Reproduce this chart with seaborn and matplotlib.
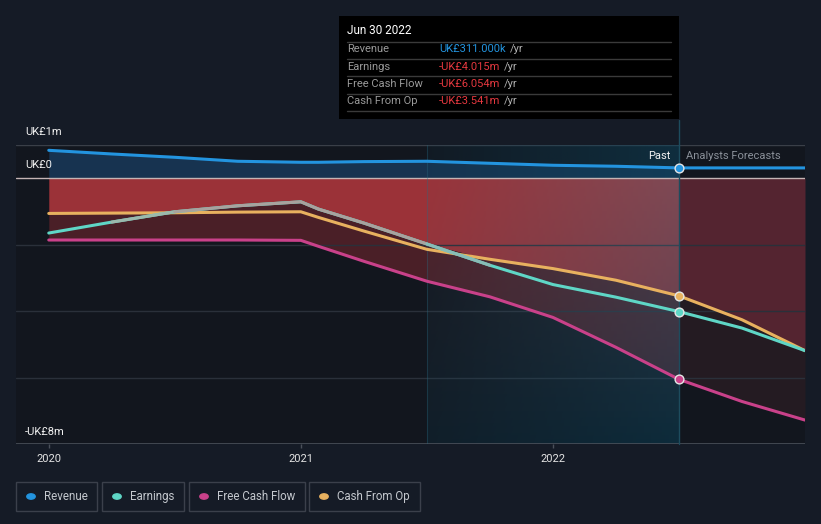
import numpy as np
import pandas as pd
import matplotlib
matplotlib.use('Agg')
from matplotlib import pyplot as plt
from matplotlib.patches import Rectangle
import seaborn as sns

# values in UK£ millions
years = [2020.0, 2020.25, 2020.5, 2020.75, 2021.0, 2021.07, 2021.25, 2021.5, 2021.75, 2022.0, 2022.25, 2022.5, 2022.75, 2023.0]
revenue = [0.84, 0.73, 0.63, 0.51, 0.48, 0.48, 0.50, 0.51, 0.45, 0.39, 0.36, 0.311, 0.31, 0.31]
earnings = [-1.65, -1.32, -1.01, -0.83, -0.71, -0.93, -1.35, -1.98, -2.62, -3.20, -3.58, -4.015, -4.51, -5.19]
free_cash_flow = [-1.86, -1.86, -1.86, -1.86, -1.87, -2.05, -2.50, -3.10, -3.57, -4.19, -5.09, -6.054, -6.72, -7.28]
cash_from_op = [-1.06, -1.05, -1.04, -1.02, -1.01, -1.18, -1.59, -2.14, -2.44, -2.72, -3.07, -3.541, -4.26, -5.19]
past_end = 2022.5
highlight_start = 2021.5

tooltip_date = 'Jun 30 2022'
tooltip_rows = [('Revenue', 'UK£311.000k', '#2394df'),
                ('Earnings', '-UK£4.015m', '#e5383f'),
                ('Free Cash Flow', '-UK£6.054m', '#e5383f'),
                ('Cash From Op', '-UK£3.541m', '#e5383f')]

colors = {'Revenue': '#2394df', 'Earnings': '#5fd6c6',
          'Free Cash Flow': '#c9418a', 'Cash From Op': '#e8b15f'}

df = pd.DataFrame({'year': years, 'Revenue': revenue, 'Earnings': earnings,
                   'Free Cash Flow': free_cash_flow, 'Cash From Op': cash_from_op})

sns.set_theme(style='dark')
plt.rcParams['font.family'] = ['Roboto', 'DejaVu Sans']

W, H = 821, 524
fig = plt.figure(figsize=(W / 100, H / 100), dpi=100, facecolor='#151b26')
ax = fig.add_axes([16 / W, 1 - 444 / H, (805 - 16) / W, (444 - 145) / H])
ax.set_facecolor('#12161e')

def fx(px):
    return px / W

def fy(py):
    return 1 - py / H

neg = df[['Earnings', 'Free Cash Flow', 'Cash From Op']]
df['top'] = neg.max(axis=1)
df['bottom'] = neg.min(axis=1)
past = df[df['year'] <= past_end]
fut = df[df['year'] >= past_end]

# filled areas
ax.fill_between(past['year'], 0, past['Revenue'], color='#173350', lw=0, zorder=1)
ax.fill_between(past['year'], 0, past['top'], color='#9b3238', lw=0, zorder=1)
ax.fill_between(past['year'], past['top'], past['bottom'], color='#4a1f27', lw=0, zorder=1)
ax.fill_between(fut['year'], 0, fut['top'], color='#542430', lw=0, zorder=1)
ax.fill_between(fut['year'], fut['top'], fut['bottom'], color='#241b22', lw=0, zorder=1)

# grid lines
for v in [-2, -4, -6]:
    ax.axhline(v, color='#2a303a', lw=1, zorder=1.5)
ax.axhline(1, color='#3a3f48', lw=1, zorder=1.5)

# past highlight gradient
nx, ny = 120, 90
vert = np.linspace(0, 1, ny)[:, None]
top_c = np.array([90, 103, 121]) / 255
bot_c = np.array([8, 70, 95]) / 255
img = np.zeros((ny, nx, 4))
img[..., :3] = (top_c * (1 - vert[..., None]) + bot_c * vert[..., None])
start_alpha = 0.04 + 0.14 * vert
img[..., 3] = start_alpha + (0.45 - start_alpha) * np.linspace(0, 1, nx)[None, :]
ax.imshow(img, extent=[highlight_start, past_end, -8, 0], aspect='auto', origin='upper', zorder=2)
img2 = np.zeros((2, nx, 4))
img2[..., :3] = np.array([12, 70, 95]) / 255
img2[..., 3] = np.linspace(0.1, 0.5, nx)[None, :]
ax.imshow(img2, extent=[highlight_start, past_end, 0, 1], aspect='auto', origin='upper', zorder=2)
ax.set_xlim(2019.87, 2023.0)
ax.set_ylim(-8, 1)

ax.axhline(0, color='#c4b4b4', lw=1, zorder=2.5)
ax.axhline(-8, color='#4a505a', lw=1.2, zorder=2.5)
ax.axvline(highlight_start, ymin=0, ymax=1, color='#2a6a80', alpha=0.35, lw=0.8, zorder=2.5)
ax.axvline(past_end, ymin=0, ymax=1.085, color='#1d4c5e', lw=1, zorder=2.5, clip_on=False)

# lines
for name in ['Revenue', 'Free Cash Flow', 'Cash From Op', 'Earnings']:
    sns.lineplot(data=df, x='year', y=name, color=colors[name], lw=2.2, ax=ax, zorder=3)
# grey middle part of the earnings stroke
sns.lineplot(data=df.iloc[1:3], x='year', y='Earnings', color='#9cb8ac', lw=2.2, ax=ax, zorder=3.1)
sns.lineplot(data=df.iloc[2:8], x='year', y='Earnings', color='#a8a29e', lw=2.2, ax=ax, zorder=3.1)
sns.lineplot(data=df.iloc[7:9], x='year', y='Earnings', color='#88bcb6', lw=2.2, ax=ax, zorder=3.1)

end = df[df['year'] == past_end]
for name in ['Revenue', 'Earnings', 'Free Cash Flow', 'Cash From Op']:
    sns.scatterplot(data=end, x='year', y=name, color=colors[name], s=40,
                    edgecolor='#e6e6e6', linewidth=1, ax=ax, zorder=4, clip_on=False)

ax.set_xlabel('')
ax.set_ylabel('')
ax.set_yticks([])
ax.set_xticks([2020, 2021, 2022])
ax.set_xticklabels(['2020', '2021', '2022'], color='#e4e4e4', fontsize=8)
ax.tick_params(axis='x', length=3, width=1, color='#4a505a', pad=4, bottom=True)
for s in ax.spines.values():
    s.set_visible(False)
ax.grid(False)

# y labels
fig.text(fx(25), fy(132), 'UK£1m', color='#f0f0f0', fontsize=8, va='center', ha='left')
fig.text(fx(25), fy(165), 'UK£0', color='#f0f0f0', fontsize=8, va='center', ha='left')
fig.text(fx(25), fy(432), '-UK£8m', color='#f0f0f0', fontsize=8, va='center', ha='left')

fig.text(fx(670), fy(156), 'Past', color='#f2f2f2', fontsize=8, va='center', ha='right')
fig.text(fx(686), fy(156), 'Analysts Forecasts', color='#8a9099', fontsize=8, va='center', ha='left')

# tooltip
fig.patches.append(Rectangle((fx(339), fy(119)), (679 - 339) / W, (119 - 16) / H,
                             transform=fig.transFigure, facecolor='#000000', edgecolor='none', zorder=10))
fig.text(fx(347), fy(31), tooltip_date, color='#ffffff', fontsize=8.5, va='center', ha='left', zorder=11)
for yy in [41.5, 58.5, 76, 93.5, 110.5]:
    fig.lines.append(plt.Line2D([fx(347), fx(671)], [fy(yy), fy(yy)], transform=fig.transFigure,
                                color='#3a3a3a', lw=1, zorder=11))
for i, (lab, val, c) in enumerate(tooltip_rows):
    yy = 49.5 + i * 17.3
    fig.text(fx(347), fy(yy), lab, color='#9a9a9a', fontsize=8, va='center', ha='left', zorder=11)
    t = fig.text(fx(439), fy(yy), val, color=c, fontsize=8, va='center', ha='left', zorder=11)
    fig.canvas.draw()
    bb = t.get_window_extent()
    fig.text(bb.x1 / W + 4 / W, fy(yy), '/yr', color='#b0b0b0', fontsize=8, va='center', ha='left', zorder=11)

# legend
legend = [('Revenue', 16, 97), ('Earnings', 102, 184), ('Free Cash Flow', 189, 305), ('Cash From Op', 309, 420)]
for name, x0, x1 in legend:
    fig.patches.append(Rectangle((fx(x0), fy(511)), (x1 - x0) / W, (511 - 482) / H,
                                 transform=fig.transFigure, facecolor='none', edgecolor='#3b404b', lw=1))
    fig.patches.append(plt.Circle((fx(x0 + 15), fy(496.5)), 4.2 / W, transform=fig.transFigure,
                                  color=colors[name]))
    fig.text(fx(x0 + 28), fy(496.5), name, color='#c4c8ce', fontsize=8.3, va='center', ha='left')

fig.savefig('out.png', dpi=100, facecolor=fig.get_facecolor())
